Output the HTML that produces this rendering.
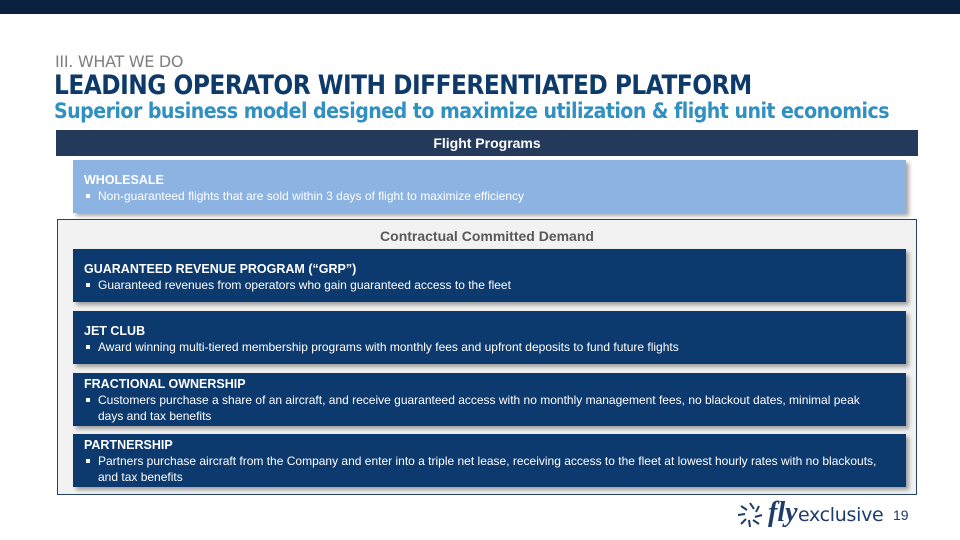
<!DOCTYPE html>
<html><head><meta charset="utf-8"><style>
*{margin:0;padding:0;box-sizing:border-box}
body{width:960px;height:540px;background:#fff;position:relative;overflow:hidden;font-family:"Liberation Sans",Arial,sans-serif}
.abs{position:absolute}
.box{position:absolute;left:73px;width:833px;color:#fff;padding:0 0 0 11px;font-size:12px;line-height:16px;box-shadow:3px 3px 4px rgba(0,0,0,.35)}
.box b{display:block;font-size:12.5px;line-height:16px}
.dark{background:#0d3a6e}
.li{position:relative;padding-left:14px}
.li:before{content:"";position:absolute;left:2px;top:6px;width:4px;height:4px;background:currentColor}
</style></head><body>
<div class="abs" style="left:0;top:0;width:960px;height:14px;background:#0a2240"></div>
<div class="abs" style="left:55px;top:52px;font-size:16px;color:#7f7f7f;font-family:'DejaVu Sans',sans-serif;letter-spacing:-0.3px">III. WHAT WE DO</div>
<div class="abs" style="left:54px;top:70px;font-size:27px;font-weight:bold;color:#0e3a6a;font-family:'DejaVu Sans',sans-serif;letter-spacing:-0.6px;white-space:nowrap;transform:scaleX(0.864);transform-origin:left top">LEADING OPERATOR WITH DIFFERENTIATED PLATFORM</div>
<div class="abs" style="left:54px;top:99px;font-size:21px;font-weight:bold;color:#3190c2;font-family:'DejaVu Sans',sans-serif;letter-spacing:-0.6px;white-space:nowrap;transform:scaleX(0.906);transform-origin:left top">Superior business model designed to maximize utilization &amp; flight unit economics</div>
<div class="abs" style="left:56px;top:130px;width:862px;height:26px;background:#233a5b;color:#fff;font-weight:bold;font-size:14px;text-align:center;line-height:27px">Flight Programs</div>
<div class="box" style="top:160px;height:53px;background:#8db3e2;padding-top:12px"><b>WHOLESALE</b><div class="li">Non-guaranteed flights that are sold within 3 days of flight to maximize efficiency</div></div>
<div class="abs" style="left:57px;top:219px;width:860px;height:276px;background:#f2f2f2;border:1px solid #244062"></div>
<div class="abs" style="left:57px;top:228px;width:860px;text-align:center;font-weight:bold;font-size:14px;color:#595959">Contractual Committed Demand</div>
<div class="box dark" style="top:249px;height:53px;padding-top:12px"><b>GUARANTEED REVENUE PROGRAM (“GRP”)</b><div class="li">Guaranteed revenues from operators who gain guaranteed access to the fleet</div></div>
<div class="box dark" style="top:311px;height:53px;padding-top:12px"><b>JET CLUB</b><div class="li">Award winning multi-tiered membership programs with monthly fees and upfront deposits to fund future flights</div></div>
<div class="box dark" style="top:373px;height:53px;padding-top:3px;padding-right:40px"><b>FRACTIONAL OWNERSHIP</b><div class="li">Customers purchase a share of an aircraft, and receive guaranteed access with no monthly management fees, no blackout dates, minimal peak days and tax benefits</div></div>
<div class="box dark" style="top:434px;height:53px;padding-top:3px;padding-right:20px"><b>PARTNERSHIP</b><div class="li">Partners purchase aircraft from the Company and enter into a triple net lease, receiving access to the fleet at lowest hourly rates with no blackouts, and tax benefits</div></div>
<svg class="abs" style="left:735px;top:500px" width="30" height="30" viewBox="0 0 30 30"><g stroke="#1d3d6b" stroke-width="2" fill="none"><path d="M15 3 L19 9"/><path d="M24 6 L21 12"/><path d="M27 15 L20 17"/><path d="M24 24 L18 20"/><path d="M15 27 L14 20"/><path d="M6 24 L11 19"/><path d="M3 15 L10 14"/><path d="M6 6 L12 10"/></g></svg>
<div class="abs" style="left:768px;top:495px;font-size:28px;color:#1d3d6b;font-family:'Liberation Serif',serif;font-style:italic;font-weight:bold;line-height:36px">fly</div>
<div class="abs" style="left:798px;top:500px;font-size:19px;color:#1d3d6b;font-family:'DejaVu Sans',sans-serif;line-height:30px;letter-spacing:-0.3px">exclusive</div>
<div class="abs" style="left:893px;top:507px;font-size:14px;color:#1d3d6b">19</div>
</body></html>
